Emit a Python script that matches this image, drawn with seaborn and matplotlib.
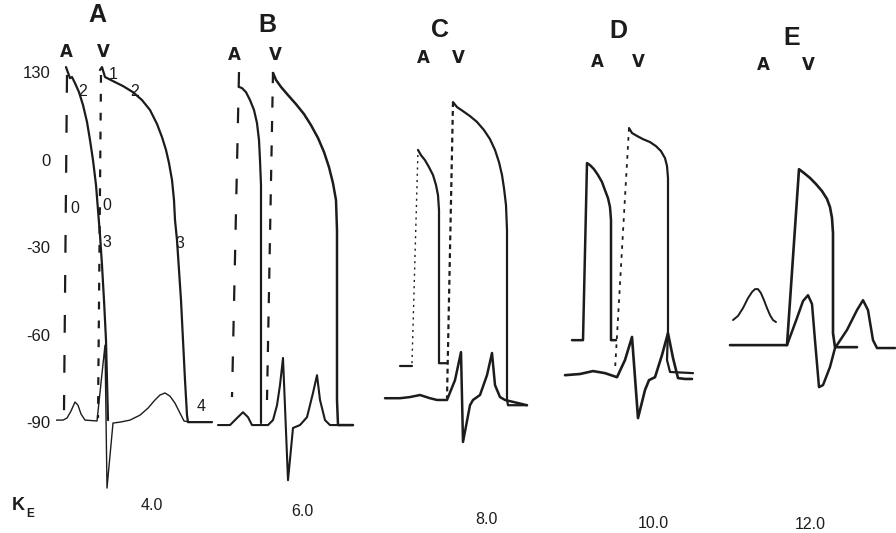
import matplotlib
matplotlib.use("Agg")
import matplotlib.pyplot as plt
import seaborn as sns
import pandas as pd

# time axis is in arbitrary drawing units, voltage in mV
# ---- panel A (Ke 4.0)
a_atr_t = [66, 70, 72, 75, 79, 83, 87, 90, 93, 96, 98, 100, 102, 104, 106, 107, 108]
a_atr_v = [31.7, 27.9, 28.3, 26.2, 23.1, 18.7, 12.9, 6.7, -0.2, -8.7, -17.3, -25.9, -36.2, -48.2, -61.9, -75.6, -89.3]
a_ven_t = [100, 102, 105, 113, 123, 133, 142, 150, 157, 162, 166, 169, 172, 174, 175, 177,
           179, 181, 183, 185, 187, 188, 212]
a_ven_v = [30.7, 31.7, 28.3, 26.9, 25.2, 23.1, 20.4, 17.0, 12.2, 7.7, 3.3, -1.2, -7.0, -13.9,
           -20.7, -27.6, -37.9, -48.2, -61.9, -75.6, -87.6, -90.0, -90.0]
a_ecg_t = [50, 63, 67, 71, 75, 78, 81, 85, 97, 105, 107, 113, 120, 130, 140, 148, 155, 160,
           165, 170, 175, 180, 184, 190, 212]
a_ecg_v = [-89.3, -89.3, -88.6, -86.2, -83.1, -84.2, -87.2, -89.3, -89.6, -63.6, -112.6, -90.3,
           -90.0, -89.3, -87.6, -85.2, -82.4, -80.7, -80.0, -81.1, -83.5, -86.9, -89.6, -90.0, -90.0]
a_atr_up_t = [67, 64]
a_atr_up_v = [29.0, -85.9]
a_ven_up_t = [101, 98]
a_ven_up_v = [29.0, -88.6]

# ---- panel B (Ke 6.0)
b_atr_t = [239, 242, 246, 250, 254, 257, 259, 260, 261, 261, 261, 261]
b_atr_v = [24.9, 24.5, 23.1, 20.4, 17.0, 12.5, 6.7, -0.2, -8.7, -20.7, -59.5, -90.3]
b_ven_t = [273, 276, 281, 288, 296, 304, 311, 318, 324, 329, 333, 336, 337, 337, 338, 353]
b_ven_v = [29.7, 27.3, 24.9, 22.1, 19.0, 15.6, 11.8, 7.4, 2.6, -2.6, -8.1, -13.9, -24.2,
           -82.4, -91.0, -91.0]
b_ecg_t = [218, 230, 237, 243, 248, 252, 260, 268, 273, 277, 280, 283, 288, 293, 300, 307,
           313, 317, 320, 325, 330, 353]
b_ecg_v = [-91.0, -91.0, -88.6, -86.6, -88.3, -91.0, -91.0, -91.0, -89.3, -84.2, -77.3, -68.0,
           -109.9, -92.0, -91.0, -88.3, -80.0, -73.9, -82.4, -89.3, -91.0, -91.0]
b_atr_up_t = [239, 232]
b_atr_up_v = [30.0, -81.4]
b_ven_up_t = [273, 267]
b_ven_up_v = [30.0, -82.4]

# ---- panel C (Ke 8.0)
c_atr_t = [400, 412]
c_atr_v = [-70.8, -70.8]
c_atr2_t = [418, 421, 425, 429, 433, 436, 438, 439, 439, 439, 447]
c_atr2_v = [3.3, 1.5, -0.2, -2.6, -5.3, -8.7, -12.2, -17.3, -36.8, -69.8, -69.8]
c_ven_t = [453, 457, 463, 470, 477, 484, 490, 495, 499, 502, 504, 506, 507, 507, 508, 527]
c_ven_v = [19.7, 18.0, 16.6, 14.9, 12.9, 10.1, 7.0, 3.3, -0.9, -5.3, -9.8, -15.6, -24.2,
           -82.4, -84.2, -84.2]
c_ecg_t = [385, 400, 410, 420, 430, 437, 447, 455, 461, 463, 470, 473, 480, 487, 492, 495,
           500, 505, 527]
c_ecg_v = [-81.8, -81.8, -81.4, -80.7, -81.8, -82.4, -82.4, -75.6, -66.0, -96.8, -84.2, -82.4,
           -80.7, -73.9, -66.3, -77.3, -81.4, -82.4, -84.2]
c_atr_up_t = [412, 418]
c_atr_up_v = [-69.8, 3.3]
c_ven_up_t = [453, 447]
c_ven_up_v = [19.7, -81.8]

# ---- panel D (Ke 10.0)
d_atr_t = [572, 583, 587, 590, 594, 598, 602, 605, 608, 610, 611, 611, 616]
d_atr_v = [-61.9, -61.9, -1.2, -1.9, -3.3, -5.3, -7.7, -10.5, -13.2, -16.3, -20.7, -61.9, -61.9]
d_ven_t = [629, 632, 637, 643, 650, 656, 661, 665, 667, 668, 668, 667, 670, 693]
d_ven_v = [10.8, 9.1, 8.1, 7.0, 6.0, 4.6, 2.9, 0.5, -2.2, -6.3, -58.4, -68.7, -72.8, -73.2]
d_ecg_t = [565, 580, 593, 605, 617, 625, 632, 638, 645, 649, 655, 662, 668, 673, 678, 685, 692]
d_ecg_v = [-73.9, -73.5, -72.5, -73.2, -74.6, -68.7, -60.8, -88.6, -79.0, -75.6, -74.6, -67.0,
           -59.5, -68.0, -74.9, -75.2, -75.2]
d_ven_up_t = [629, 615]
d_ven_up_v = [10.8, -72.2]

# ---- panel E (Ke 12.0)
e_atr_t = [733, 738, 743, 748, 752, 755, 758, 761, 764, 767, 770, 773, 776]
e_atr_v = [-55.0, -53.6, -50.9, -47.5, -45.4, -44.4, -44.4, -45.8, -48.2, -50.9, -53.3, -55.0, -55.7]
e_ven_t = [730, 787, 799, 804, 810, 816, 822, 827, 830, 832, 833, 833, 835, 857]
e_ven_v = [-63.6, -63.6, -3.3, -4.6, -6.3, -8.4, -10.8, -13.5, -16.3, -20.0, -25.2, -59.5,
           -64.3, -64.3]
e_ecg_t = [787, 797, 803, 808, 812, 815, 819, 823, 830, 835, 847, 857, 863, 868, 873, 877, 895]
e_ecg_v = [-63.6, -54.3, -48.5, -46.5, -49.5, -62.0, -78.0, -77.3, -71.1, -64.6, -58.4, -51.6,
           -48.2, -51.6, -61.9, -64.6, -64.6]

panels = ["A", "B", "C", "D", "E"]
ke_values = ["4.0", "6.0", "8.0", "10.0", "12.0"]
ytick_values = [30, 0, -30, -60, -90]
ytick_labels = ["130", "0", "-30", "-60", "-90"]

sns.set_theme(style="white")
plt.rcParams["font.family"] = ["Liberation Sans", "DejaVu Sans"]

fig = plt.figure(figsize=(8.96, 5.33), dpi=100)
ax = fig.add_axes([56 / 896, 0, 1 - 56 / 896, 1])
ink = "#1c1c1c"


def trace(t, v, lw=1.6, ls="-"):
    df = pd.DataFrame({"t": t, "v": v})
    sns.lineplot(data=df, x="t", y="v", sort=False, estimator=None, color=ink,
                 lw=lw, linestyle=ls, ax=ax, solid_capstyle="round",
                 solid_joinstyle="round")


long_dash = (0, (8, 10))
short_dash = (0, (3.5, 5))

# A
trace(a_atr_t, a_atr_v)
trace(a_ven_t, a_ven_v)
trace(a_ecg_t, a_ecg_v, lw=1.0)
trace(a_atr_up_t, a_atr_up_v, lw=1.6, ls=long_dash)
trace(a_ven_up_t, a_ven_up_v, lw=1.6, ls=short_dash)
# B
trace(b_atr_t, b_atr_v)
trace(b_ven_t, b_ven_v, lw=1.8)
trace(b_ecg_t, b_ecg_v, lw=1.5)
trace(b_atr_up_t, b_atr_up_v, lw=1.6, ls=(0, (7, 9)))
trace(b_ven_up_t, b_ven_up_v, lw=1.6, ls=(0, (5, 6)))
# C
trace(c_atr_t, c_atr_v)
trace(c_atr2_t, c_atr2_v)
trace(c_ven_t, c_ven_v)
trace(c_ecg_t, c_ecg_v, lw=1.8)
trace(c_atr_up_t, c_atr_up_v, lw=1.0, ls=(0, (1.5, 3)))
trace(c_ven_up_t, c_ven_up_v, lw=1.6, ls=(0, (2.2, 1.8)))
# D
trace(d_atr_t, d_atr_v, lw=1.8)
trace(d_ven_t, d_ven_v)
trace(d_ecg_t, d_ecg_v, lw=1.9)
trace(d_ven_up_t, d_ven_up_v, lw=1.3, ls=(0, (2, 3)))
# E
trace(e_atr_t, e_atr_v, lw=1.4)
trace(e_ven_t, e_ven_v, lw=1.9)
trace(e_ecg_t, e_ecg_v, lw=1.8)

ax.set_xlim(56, 896)
ax.set_ylim(-128.0, 54.7)
ax.set_yticks(ytick_values)
ax.set_yticklabels(ytick_labels)
ax.set_xticks([])
ax.tick_params(axis="y", length=0, pad=4, labelsize=12, labelcolor=ink)
ax.set_xlabel("")
ax.set_ylabel("")
for s in ax.spines.values():
    s.set_visible(False)

# panel letters and A / V markers
letter_pos = [(97, 49.5), (267, 46.1), (440, 44.4), (618, 44.0), (792, 41.8)]
av_pos = [(66, 103, 36.9), (234, 275, 35.8), (423, 458, 34.8), (597, 638, 33.4), (763, 808, 32.4)]
for name, (x, y), (xa, xv, yav) in zip(panels, letter_pos, av_pos):
    ax.text(x, y, name, ha="center", va="center", fontsize=18, fontweight="bold", color=ink)
    ax.text(xa, yav, "A", ha="center", va="center", fontsize=12, fontweight="bold",
            family="DejaVu Sans", color=ink)
    ax.text(xv, yav, "V", ha="center", va="center", fontsize=12, fontweight="bold",
            family="DejaVu Sans", color=ink)

# phase numbers in panel A
phase_labels = ["2", "1", "2", "0", "0", "3", "3", "4"]
phase_pos = [(83, 23.2), (113, 29.0), (135, 23.2), (75, -16.6), (107, -15.6),
             (107, -28.3), (180, -28.6), (201, -84.5)]
for lab, (x, y) in zip(phase_labels, phase_pos):
    ax.text(x, y, lab, ha="center", va="center", fontsize=11.5, color=ink)

# Ke values
ke_pos = [(152, -118.5), (302, -120.6), (486, -123.3), (653, -124.6), (810, -125.2)]
ax.text(18, -118.5, "K", ha="center", va="center", fontsize=13, fontweight="bold", color=ink)
ax.text(30, -121.5, "E", ha="center", va="center", fontsize=8.5, fontweight="bold", color=ink)
for lab, (x, y) in zip(ke_values, ke_pos):
    ax.text(x, y, lab, ha="center", va="center", fontsize=11.5, color=ink)

fig.savefig("out.png", dpi=100, facecolor="white")
